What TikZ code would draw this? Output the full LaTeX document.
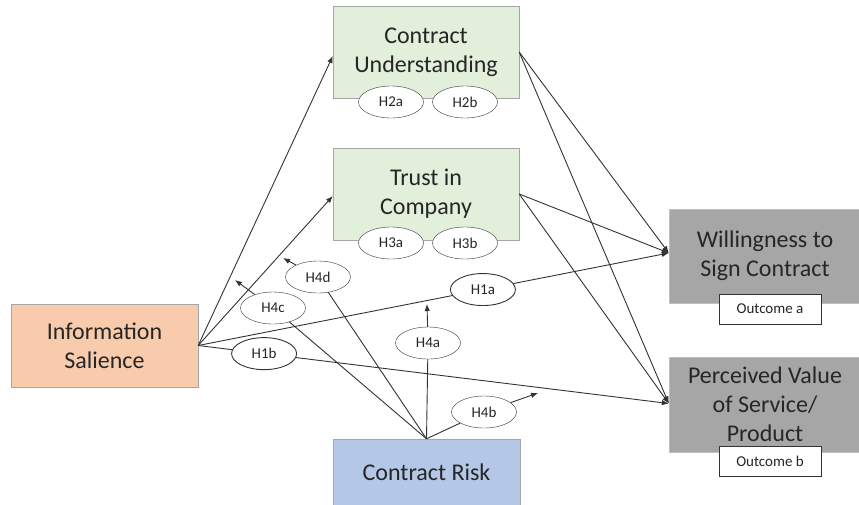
\documentclass[tikz,border=0pt]{standalone}
\usepackage{fontspec}
\setmainfont{Carlito}
\usetikzlibrary{shapes.geometric, arrows.meta}

\definecolor{salience}{HTML}{F8CBAD}
\definecolor{mediator}{HTML}{E2EFDA}
\definecolor{result}{HTML}{A6A6A6}
\definecolor{risk}{HTML}{B4C7E7}

\begin{document}
\begin{tikzpicture}[x=1pt, y=-1pt,
    construct/.style={rectangle, draw=black!35, align=center, text=black!85, font=\fontsize{24}{29}\selectfont, inner sep=2pt},
    outcome/.style={rectangle, draw=black!80, fill=white, minimum width=102pt, minimum height=30pt, font=\fontsize{15}{18}\selectfont, text=black!85},
    hyp/.style={ellipse, draw=black!80, fill=white, minimum width=65pt, minimum height=32pt, inner sep=0pt, font=\fontsize{15}{18}\selectfont, text=black!85},
    link/.style={draw=black!80, line width=0.9pt, -{Latex[length=7pt,width=5.5pt]}},
    plainlink/.style={draw=black!80, line width=0.9pt}
]
\useasboundingbox (0,0) rectangle (859,504);

%=== CONSTRUCTS ===
\node[construct, fill=salience, minimum width=187pt, minimum height=83pt] (IS) at (104.5,345.5) {Information\\Salience};
\node[construct, fill=mediator, minimum width=186pt, minimum height=92pt] (CU) at (426,52) {Contract\\Understanding};
\node[construct, fill=mediator, minimum width=186pt, minimum height=92pt] (TC) at (426,194) {Trust in\\Company};
\node[construct, fill=result, draw=black!25, minimum width=192pt, minimum height=94pt] (WS) at (765,256) {Willingness to\\Sign Contract};
\node[construct, fill=result, draw=black!25, minimum width=192pt, minimum height=95pt] (PV) at (765,404.5) {Perceived Value\\of Service/\\Product};
\node[construct, fill=risk, minimum width=187pt, minimum height=67pt] (CR) at (426.5,472.5) {Contract Risk};

% outcome tags under the two dependent variables
\node[outcome] (OA) at (770,309) {Outcome a};
\node[outcome] (OB) at (770,461) {Outcome b};

% mediator hypotheses sitting on the box edges
\node[hyp] (H2a) at (391,102) {H2a};
\node[hyp] (H2b) at (465,102) {H2b};
\node[hyp] (H3a) at (391,243) {H3a};
\node[hyp] (H3b) at (465,243) {H3b};

% where the arrows meet the dependent variables
\coordinate (WSin) at ([yshift=3pt]WS.west);
\coordinate (PVin) at ([yshift=1pt]PV.west);

%=== DIRECT AND MEDIATED PATHS ===
\draw[link] (IS.east) -- ([yshift=-4pt]CU.west);
\draw[link] (IS.east) -- ([yshift=-2pt]TC.west);
\draw[link] (CU.east) -- (WSin);
\draw[link] (CU.east) -- (PVin);
\draw[link] (TC.east) -- (WSin);
\draw[link] (TC.east) -- (PVin);
\draw[link] (IS.east) -- node[hyp, pos=0.605] (H1a) {H1a} (WSin);
\draw[link] (IS.east) -- node[hyp, pos=0.14] (H1b) {H1b} (PVin);

%=== MODERATION BY CONTRACT RISK ===
\coordinate (t4a) at (427,304); % onto H1a
\coordinate (t4b) at (538,393); % onto H1b
\coordinate (t4c) at (235,280); % onto IS -> CU
\coordinate (t4d) at (283,258); % onto IS -> TC

\node[hyp] (H4a) at (428,343) {H4a};
\node[hyp] (H4b) at (484,412) {H4b};
\node[hyp] (H4c) at (273,308) {H4c};
\node[hyp] (H4d) at (318,277) {H4d};

\draw[plainlink] (CR.north) -- (H4a);
\draw[link] (H4a) -- (t4a);
\draw[plainlink] (CR.north) -- (H4b);
\draw[link] (H4b) -- (t4b);
\draw[plainlink] (CR.north) -- (H4c);
\draw[link] (H4c) -- (t4c);
\draw[plainlink] (CR.north) -- (H4d);
\draw[link] (H4d) -- (t4d);

\end{tikzpicture}
\end{document}
